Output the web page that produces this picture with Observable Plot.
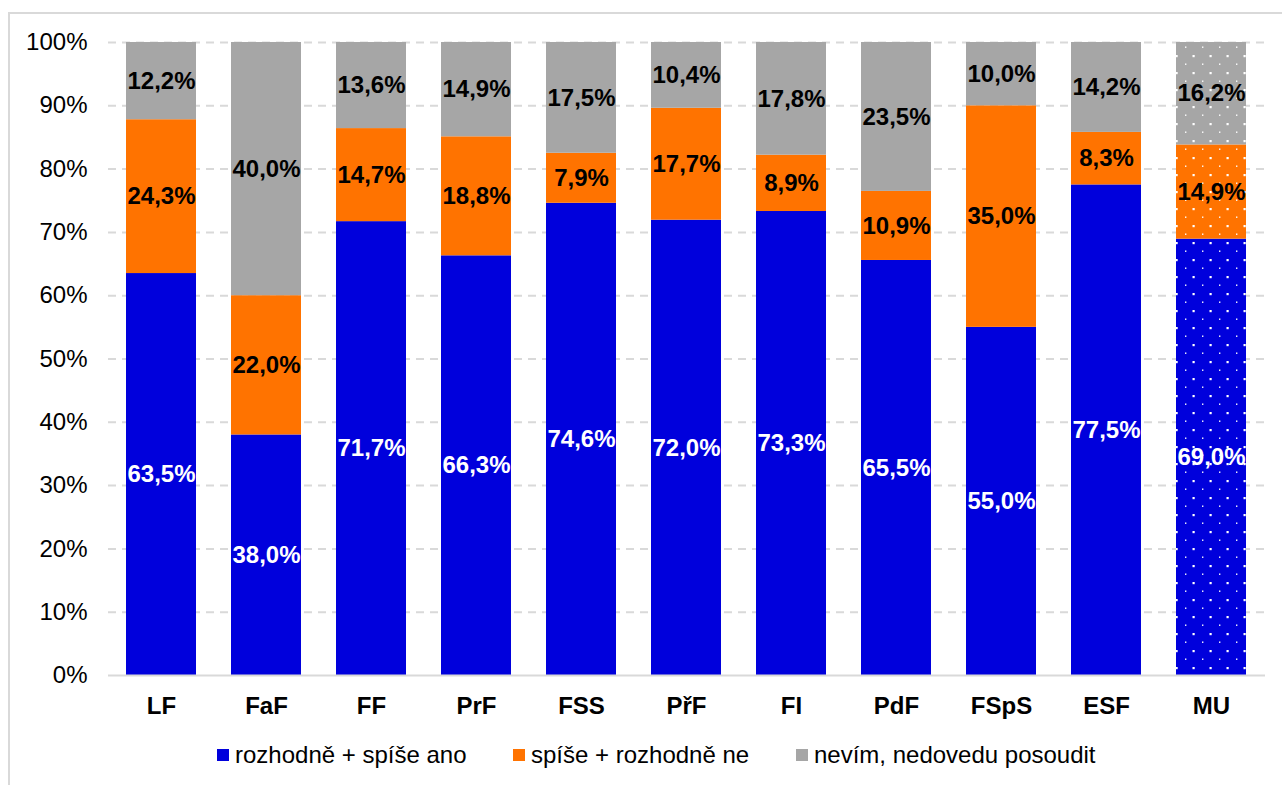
<!DOCTYPE html>
<html>
<head>
<meta charset="utf-8">
<script src="https://cdn.jsdelivr.net/npm/d3@7"></script>
<script src="https://cdn.jsdelivr.net/npm/@observablehq/plot@0.6"></script>
<style>
  html, body { margin: 0; padding: 0; background: #fff; width: 1282px; height: 785px; overflow: hidden; }
  body { position: relative; font-family: "Liberation Sans", Arial, sans-serif; }
  #frame { position: absolute; left: 8px; top: 12px; width: 1300px; height: 800px; border: 2px solid #d9d9d9; box-sizing: border-box; }
  #chart { position: absolute; left: 0; top: 0; }
  #legend { position: absolute; top: 742px; left: 0; width: 1282px; height: 26px; font-size: 24px; color: #000; }
  .li { position: absolute; top: 0; display: flex; align-items: center; height: 26px; white-space: nowrap; }
  .sw { width: 12px; height: 12px; margin-right: 6px; }
</style>
</head>
<body>
<div id="frame"></div>
<div id="chart"></div>
<div id="legend"></div>
<script>
const categories = ["LF", "FaF", "FF", "PrF", "FSS", "PřF", "FI", "PdF", "FSpS", "ESF", "MU"];
const ano   = [63.5, 38.0, 71.7, 66.3, 74.6, 72.0, 73.3, 65.5, 55.0, 77.5, 69.0];
const ne    = [24.3, 22.0, 14.7, 18.8, 7.9, 17.7, 8.9, 10.9, 35.0, 8.3, 14.9];
const nevim = [12.2, 40.0, 13.6, 14.9, 17.5, 10.4, 17.8, 23.5, 10.0, 14.2, 16.2];
const seriesNames = ["rozhodně + spíše ano", "spíše + rozhodně ne", "nevím, nedovedu posoudit"];
const seriesColors = ["#0000dc", "#ff7300", "#a6a6a6"];
const yTicks = [0, 0.1, 0.2, 0.3, 0.4, 0.5, 0.6, 0.7, 0.8, 0.9, 1.0];
const patternCategory = "MU";

const seriesValues = [ano, ne, nevim];
const data = categories.flatMap((c, i) =>
  seriesNames.map((s, k) => ({cat: c, s, v: seriesValues[k][i]}))
);
const fmt = v => v.toFixed(1).replace(".", ",") + "%";
const stackOpts = {x: "cat", y: "v", z: "s", order: seriesNames, offset: "normalize"};

const plot = Plot.plot({
  width: 1282,
  height: 730,
  marginLeft: 108,
  marginRight: 17,
  marginTop: 42,
  marginBottom: 55,
  style: {fontFamily: "'Liberation Sans', Arial, sans-serif", fontSize: "24px", color: "#000", background: "transparent"},
  x: {domain: categories, paddingInner: 0.333, paddingOuter: 0.1665, label: null},
  y: {domain: [0, 1], label: null},
  color: {domain: seriesNames, range: seriesColors},
  marks: [
    Plot.ruleY(yTicks.filter(d => d > 0), {stroke: "#d9d9d9", strokeWidth: 2, strokeDasharray: "8,6"}),
    Plot.barY(data, Plot.stackY({...stackOpts, fill: "s"})),
    Plot.barY(data.filter(d => d.cat === patternCategory), Plot.stackY({...stackOpts, fill: "url(#mudots)"})),
    Plot.ruleY([0], {stroke: "#d9d9d9", strokeWidth: 2}),
    Plot.text(data, Plot.stackY({
      ...stackOpts,
      text: d => fmt(d.v),
      fill: d => d.s === seriesNames[0] ? "#ffffff" : "#000000",
      fontWeight: "bold",
      fontSize: 24
    })),
    Plot.axisY({ticks: yTicks, tickFormat: d => Math.round(d * 100) + "%", tickSize: 0, tickPadding: 21, fontSize: 24, label: null}),
    Plot.axisX({tickSize: 0, tickPadding: 21, fontSize: 24, fontWeight: "bold", label: null})
  ]
});

d3.select(plot).insert("defs", ":first-child").html(
  '<pattern id="mudots" patternUnits="userSpaceOnUse" x="1185" y="38" width="17" height="17">' +
  '<rect x="7.5" y="0" width="2.2" height="2.2" fill="#ffffff"/>' +
  '<rect x="0" y="8.5" width="1.4" height="1.4" fill="#ffffff"/>' +
  '</pattern>'
);
document.getElementById("chart").appendChild(plot);

const legend = document.getElementById("legend");
const lefts = [217, 513, 796];
seriesNames.forEach((s, k) => {
  const item = document.createElement("div");
  item.className = "li";
  item.style.left = lefts[k] + "px";
  const sw = document.createElement("div");
  sw.className = "sw";
  sw.style.background = seriesColors[k];
  const t = document.createElement("span");
  t.textContent = s;
  item.appendChild(sw);
  item.appendChild(t);
  legend.appendChild(item);
});
</script>
</body>
</html>
